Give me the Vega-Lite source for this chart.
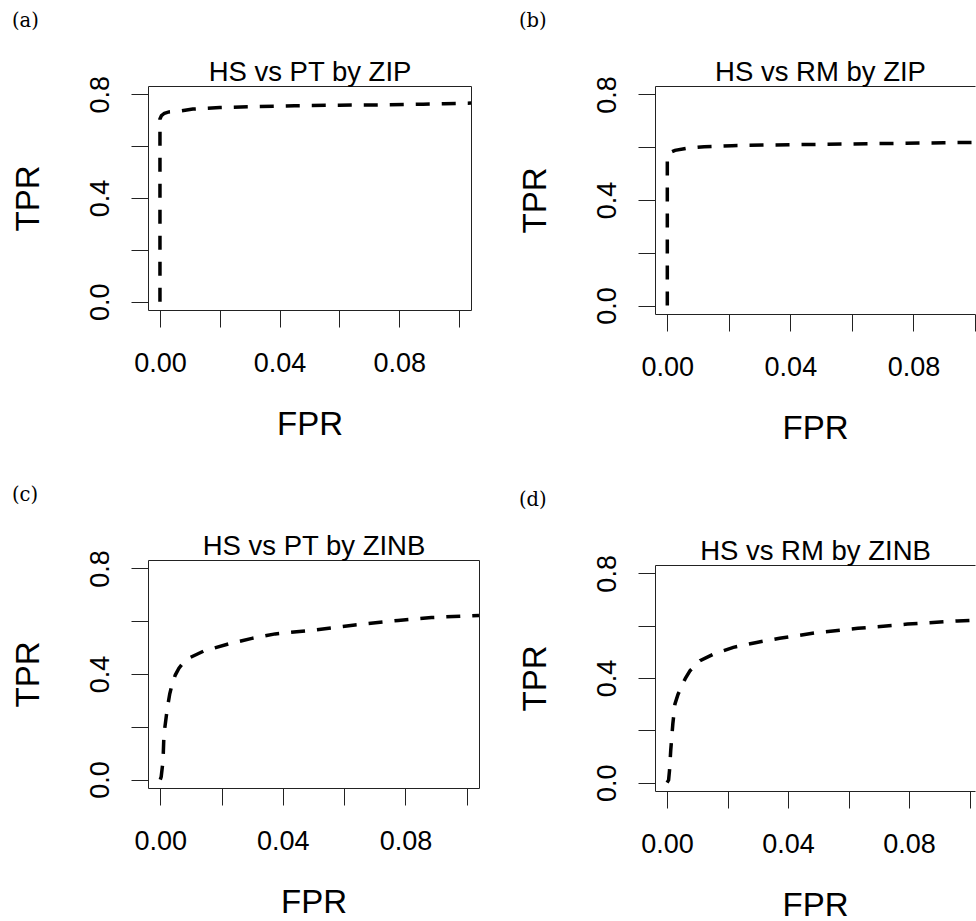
{
  "$schema": "https://vega.github.io/schema/vega-lite/v6.json",
  "background": "white",
  "padding": {"left": 11, "top": 10, "right": 0, "bottom": 0},
  "config": {
    "view": {"stroke": null},
    "axis": {"grid": false, "domainColor": "#222", "tickColor": "#222", "domainWidth": 1, "tickWidth": 1, "labelFont": "Liberation Sans", "titleFont": "Liberation Sans", "labelColor": "black", "titleColor": "black", "labelFontSize": 27, "titleFontSize": 33, "titleFontWeight": "normal", "tickSize": 17, "labelFlush": false, "labelOverlap": false},
    "axisLeft": {"labelAngle": 270, "labelAlign": "center", "labelBaseline": "alphabetic", "labelPadding": 23, "titlePadding": 41},
    "axisBottom": {"labelPadding": 23, "titlePadding": 32},
    "axisTop": {"ticks": false, "labels": false, "titleFontSize": 27.5, "titlePadding": 0},
    "axisRight": {"ticks": false, "labels": false},
    "title": {"font": "DejaVu Serif", "fontSize": 19.5, "fontWeight": "normal", "color": "black", "anchor": "start", "frame": "bounds", "baseline": "alphabetic", "offset": 27}
  },
  "bounds": "flush",
  "spacing": 507,
  "hconcat": [
    {
      "bounds": "flush",
      "spacing": 250,
      "vconcat": [
        {
          "title": {"text": "(a)", "dx": 0},
          "width": 323, "height": 224,
          "data": {"values": [
            {"step": 1, "fpr": 0, "tpr": 0},
            {"step": 2, "fpr": 0, "tpr": 0.705},
            {"step": 3, "fpr": 0.0005, "tpr": 0.718},
            {"step": 4, "fpr": 0.0015, "tpr": 0.727},
            {"step": 5, "fpr": 0.003, "tpr": 0.732},
            {"step": 6, "fpr": 0.007, "tpr": 0.736},
            {"step": 7, "fpr": 0.011, "tpr": 0.743},
            {"step": 8, "fpr": 0.02, "tpr": 0.749},
            {"step": 9, "fpr": 0.03, "tpr": 0.752},
            {"step": 10, "fpr": 0.045, "tpr": 0.756},
            {"step": 11, "fpr": 0.06, "tpr": 0.758},
            {"step": 12, "fpr": 0.075, "tpr": 0.759},
            {"step": 13, "fpr": 0.088, "tpr": 0.762},
            {"step": 14, "fpr": 0.095, "tpr": 0.764},
            {"step": 15, "fpr": 0.104, "tpr": 0.766}
          ]},
          "layer": [
            {
              "mark": {"type": "line", "color": "black", "strokeWidth": 3.5, "strokeDash": [14, 12], "clip": true},
              "encoding": {
                "x": {"field": "fpr", "type": "quantitative", "scale": {"domain": [-0.004, 0.104], "nice": false, "zero": false},
                      "axis": {"orient": "bottom", "title": "FPR", "values": [0, 0.02, 0.04, 0.06, 0.08, 0.1], "labelExpr": "datum.value == 0 || datum.value == 0.04 || datum.value == 0.08 ? format(datum.value, '.2f') : ''"}},
                "y": {"field": "tpr", "type": "quantitative", "scale": {"domain": [-0.032, 0.832], "nice": false, "zero": false},
                      "axis": {"orient": "left", "title": "TPR", "values": [0, 0.2, 0.4, 0.6, 0.8], "labelExpr": "datum.value == 0 || datum.value == 0.4 || datum.value == 0.8 ? format(datum.value, '.1f') : ''"}},
                "order": {"field": "step", "type": "quantitative"}
              }
            },
            {
              "mark": {"type": "point", "opacity": 0},
              "encoding": {
                "x": {"field": "fpr", "type": "quantitative", "axis": {"orient": "top", "title": "HS vs PT by ZIP"}},
                "y": {"field": "tpr", "type": "quantitative", "axis": {"orient": "right", "title": null}}
              }
            }
          ],
          "resolve": {"axis": {"x": "independent", "y": "independent"}}
        },
        {
          "title": {"text": "(c)", "dx": 0},
          "width": 331, "height": 228,
          "data": {"values": [
            {"step": 1, "fpr": 0, "tpr": 0},
            {"step": 2, "fpr": 0.0003, "tpr": 0.01},
            {"step": 3, "fpr": 0.0009, "tpr": 0.07},
            {"step": 4, "fpr": 0.0012, "tpr": 0.17},
            {"step": 5, "fpr": 0.0023, "tpr": 0.27},
            {"step": 6, "fpr": 0.0031, "tpr": 0.325},
            {"step": 7, "fpr": 0.0039, "tpr": 0.362},
            {"step": 8, "fpr": 0.0049, "tpr": 0.396},
            {"step": 9, "fpr": 0.0061, "tpr": 0.422},
            {"step": 10, "fpr": 0.0076, "tpr": 0.444},
            {"step": 11, "fpr": 0.0093, "tpr": 0.46},
            {"step": 12, "fpr": 0.0142, "tpr": 0.487},
            {"step": 13, "fpr": 0.0223, "tpr": 0.514},
            {"step": 14, "fpr": 0.0299, "tpr": 0.535},
            {"step": 15, "fpr": 0.0375, "tpr": 0.552},
            {"step": 16, "fpr": 0.0505, "tpr": 0.567},
            {"step": 17, "fpr": 0.0635, "tpr": 0.586},
            {"step": 18, "fpr": 0.0776, "tpr": 0.603},
            {"step": 19, "fpr": 0.0885, "tpr": 0.614},
            {"step": 20, "fpr": 0.104, "tpr": 0.622}
          ]},
          "layer": [
            {
              "mark": {"type": "line", "color": "black", "strokeWidth": 3.5, "strokeDash": [14, 12], "clip": true},
              "encoding": {
                "x": {"field": "fpr", "type": "quantitative", "scale": {"domain": [-0.004, 0.104], "nice": false, "zero": false},
                      "axis": {"orient": "bottom", "title": "FPR", "values": [0, 0.02, 0.04, 0.06, 0.08, 0.1], "labelExpr": "datum.value == 0 || datum.value == 0.04 || datum.value == 0.08 ? format(datum.value, '.2f') : ''"}},
                "y": {"field": "tpr", "type": "quantitative", "scale": {"domain": [-0.032, 0.832], "nice": false, "zero": false},
                      "axis": {"orient": "left", "title": "TPR", "values": [0, 0.2, 0.4, 0.6, 0.8], "labelExpr": "datum.value == 0 || datum.value == 0.4 || datum.value == 0.8 ? format(datum.value, '.1f') : ''"}},
                "order": {"field": "step", "type": "quantitative"}
              }
            },
            {
              "mark": {"type": "point", "opacity": 0},
              "encoding": {
                "x": {"field": "fpr", "type": "quantitative", "axis": {"orient": "top", "title": "HS vs PT by ZINB"}},
                "y": {"field": "tpr", "type": "quantitative", "axis": {"orient": "right", "title": null}}
              }
            }
          ],
          "resolve": {"axis": {"x": "independent", "y": "independent"}}
        }
      ]
    },
    {
      "bounds": "flush",
      "spacing": 251,
      "vconcat": [
        {
          "title": {"text": "(b)", "dx": 0},
          "width": 320, "height": 228,
          "data": {"values": [
            {"step": 1, "fpr": 0, "tpr": 0},
            {"step": 2, "fpr": 0, "tpr": 0.565},
            {"step": 3, "fpr": 0.001, "tpr": 0.58},
            {"step": 4, "fpr": 0.0025, "tpr": 0.588},
            {"step": 5, "fpr": 0.007, "tpr": 0.597},
            {"step": 6, "fpr": 0.012, "tpr": 0.602},
            {"step": 7, "fpr": 0.021, "tpr": 0.606},
            {"step": 8, "fpr": 0.031, "tpr": 0.608},
            {"step": 9, "fpr": 0.05, "tpr": 0.611},
            {"step": 10, "fpr": 0.07, "tpr": 0.614},
            {"step": 11, "fpr": 0.09, "tpr": 0.617},
            {"step": 12, "fpr": 0.1, "tpr": 0.618}
          ]},
          "layer": [
            {
              "mark": {"type": "line", "color": "black", "strokeWidth": 3.5, "strokeDash": [14, 12], "clip": true},
              "encoding": {
                "x": {"field": "fpr", "type": "quantitative", "scale": {"domain": [-0.004, 0.1], "nice": false, "zero": false},
                      "axis": {"orient": "bottom", "title": "FPR", "values": [0, 0.02, 0.04, 0.06, 0.08, 0.1], "labelExpr": "datum.value == 0 || datum.value == 0.04 || datum.value == 0.08 ? format(datum.value, '.2f') : ''"}},
                "y": {"field": "tpr", "type": "quantitative", "scale": {"domain": [-0.032, 0.832], "nice": false, "zero": false},
                      "axis": {"orient": "left", "title": "TPR", "values": [0, 0.2, 0.4, 0.6, 0.8], "labelExpr": "datum.value == 0 || datum.value == 0.4 || datum.value == 0.8 ? format(datum.value, '.1f') : ''"}},
                "order": {"field": "step", "type": "quantitative"}
              }
            },
            {
              "mark": {"type": "point", "opacity": 0},
              "encoding": {
                "x": {"field": "fpr", "type": "quantitative", "axis": {"orient": "top", "title": "HS vs RM by ZIP", "titleX": 165}},
                "y": {"field": "tpr", "type": "quantitative", "axis": null}
              }
            }
          ],
          "resolve": {"axis": {"x": "independent", "y": "independent"}}
        },
        {
          "title": {"text": "(d)", "dx": 0},
          "width": 320, "height": 226,
          "data": {"values": [
            {"step": 1, "fpr": 0, "tpr": 0},
            {"step": 2, "fpr": 0.0005, "tpr": 0.01},
            {"step": 3, "fpr": 0.0008, "tpr": 0.047},
            {"step": 4, "fpr": 0.0012, "tpr": 0.123},
            {"step": 5, "fpr": 0.0019, "tpr": 0.225},
            {"step": 6, "fpr": 0.0026, "tpr": 0.301},
            {"step": 7, "fpr": 0.0036, "tpr": 0.337},
            {"step": 8, "fpr": 0.0048, "tpr": 0.368},
            {"step": 9, "fpr": 0.0061, "tpr": 0.4},
            {"step": 10, "fpr": 0.0076, "tpr": 0.428},
            {"step": 11, "fpr": 0.0109, "tpr": 0.466},
            {"step": 12, "fpr": 0.0153, "tpr": 0.491},
            {"step": 13, "fpr": 0.0219, "tpr": 0.517},
            {"step": 14, "fpr": 0.0296, "tpr": 0.536},
            {"step": 15, "fpr": 0.0372, "tpr": 0.552},
            {"step": 16, "fpr": 0.0499, "tpr": 0.574},
            {"step": 17, "fpr": 0.0631, "tpr": 0.59},
            {"step": 18, "fpr": 0.0795, "tpr": 0.606},
            {"step": 19, "fpr": 0.096, "tpr": 0.618},
            {"step": 20, "fpr": 0.1018, "tpr": 0.621}
          ]},
          "layer": [
            {
              "mark": {"type": "line", "color": "black", "strokeWidth": 3.5, "strokeDash": [14, 12], "clip": true},
              "encoding": {
                "x": {"field": "fpr", "type": "quantitative", "scale": {"domain": [-0.004, 0.1018], "nice": false, "zero": false},
                      "axis": {"orient": "bottom", "title": "FPR", "values": [0, 0.02, 0.04, 0.06, 0.08, 0.1], "labelExpr": "datum.value == 0 || datum.value == 0.04 || datum.value == 0.08 ? format(datum.value, '.2f') : ''"}},
                "y": {"field": "tpr", "type": "quantitative", "scale": {"domain": [-0.032, 0.832], "nice": false, "zero": false},
                      "axis": {"orient": "left", "title": "TPR", "values": [0, 0.2, 0.4, 0.6, 0.8], "labelExpr": "datum.value == 0 || datum.value == 0.4 || datum.value == 0.8 ? format(datum.value, '.1f') : ''"}},
                "order": {"field": "step", "type": "quantitative"}
              }
            },
            {
              "mark": {"type": "point", "opacity": 0},
              "encoding": {
                "x": {"field": "fpr", "type": "quantitative", "axis": {"orient": "top", "title": "HS vs RM by ZINB"}},
                "y": {"field": "tpr", "type": "quantitative", "axis": null}
              }
            }
          ],
          "resolve": {"axis": {"x": "independent", "y": "independent"}}
        }
      ]
    }
  ]
}
